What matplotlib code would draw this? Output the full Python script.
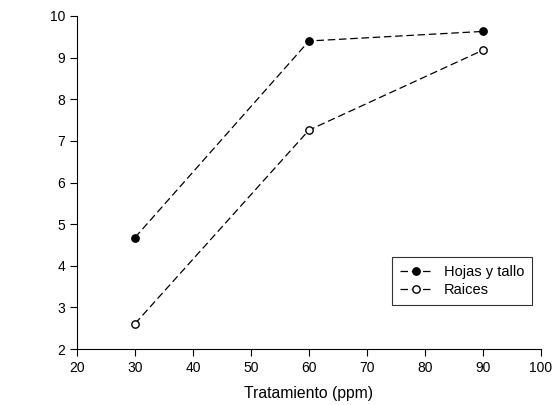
import matplotlib
matplotlib.use("Agg")
import matplotlib.pyplot as plt

x = [30, 60, 90]
hojas = [4.68, 9.40, 9.63]
raices = [2.61, 7.26, 9.18]
labels = ["Hojas y tallo", "Raices"]

plt.rcParams['font.family'] = ['Liberation Sans', 'DejaVu Sans']
fig = plt.figure(figsize=(5.56, 4.05), dpi=100)
ax = fig.add_axes([0.1385, 0.138, 0.8345, 0.8225])

ax.plot(x, hojas, ls=(0, (6, 3)), color='black', lw=0.9, marker='o',
        markersize=5.3, markerfacecolor='black', markeredgecolor='black', label=labels[0])
ax.plot(x, raices, ls=(0, (6, 3)), color='black', lw=0.9, marker='o',
        markersize=5.3, markerfacecolor='white', markeredgecolor='black', label=labels[1])

ax.set_xlim(20, 100)
ax.set_ylim(2, 10)
ax.set_xticks(range(20, 101, 10))
ax.set_yticks(range(2, 11, 1))
ax.spines['top'].set_visible(False)
ax.spines['right'].set_visible(False)
ax.tick_params(direction='out', length=5, width=0.8, labelsize=10)
ax.set_xlabel("Tratamiento (ppm)", fontsize=11.3, labelpad=8)

leg = ax.legend(loc='lower right', bbox_to_anchor=(0.981, 0.132), borderaxespad=0,
                frameon=True, fancybox=False, edgecolor='black', fontsize=10.5,
                handlelength=2.2, borderpad=0.55, labelspacing=0.25, handletextpad=0.8)
leg.get_frame().set_linewidth(0.8)

fig.savefig("out.png", dpi=100)
